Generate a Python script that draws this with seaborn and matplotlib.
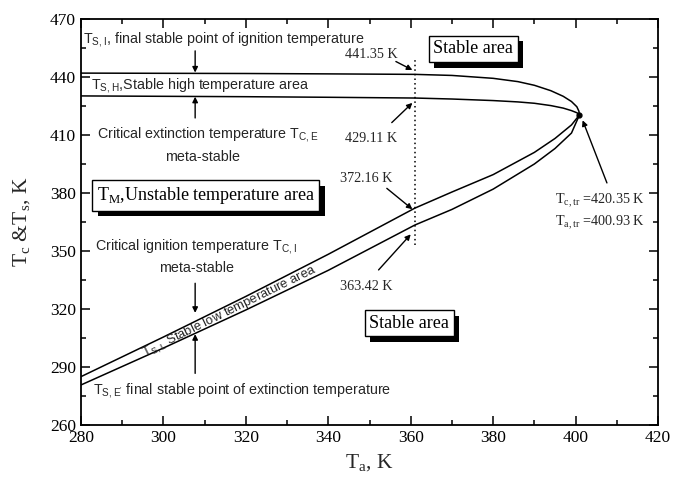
import numpy as np
import pandas as pd
import matplotlib
matplotlib.use("Agg")
import matplotlib.pyplot as plt
import matplotlib.patheffects as pe
import seaborn as sns

# ---- data ----
ta_high = [280, 300, 320, 340, 361, 370, 380, 386, 390, 394, 397, 399, 400.3, 400.8, 400.93]
ts_high_upper = [442.0, 441.9, 441.8, 441.6, 441.35, 440.8, 439.3, 437.6, 435.7, 432.9, 430.0, 427.3, 424.6, 422.3, 420.35]
ts_high_lower = [430.2, 430.0, 429.8, 429.5, 429.11, 428.6, 427.8, 427.1, 426.4, 425.2, 423.9, 422.6, 421.5, 420.8, 420.35]

ta_low = [280, 300, 320, 340, 361, 370, 380, 390, 395, 399, 400.93]
ts_low_upper = [285.0, 305.5, 326.5, 348.3, 372.16, 380.5, 389.5, 401.0, 408.2, 415.2, 420.35]
ts_low_lower = [280.7, 299.8, 319.5, 340.0, 363.42, 371.5, 382.0, 395.0, 403.0, 411.0, 420.35]

x_ticks = [280, 300, 320, 340, 360, 380, 400, 420]
y_ticks = [260, 290, 320, 350, 380, 410, 440, 470]

ta_cut = 361
nose = (400.93, 420.35)

sns.set_theme(style="white")
plt.rcParams["font.family"] = ["Liberation Serif", "DejaVu Serif"]

fig = plt.figure(figsize=(6.77, 4.78), dpi=100)
ax = fig.add_axes([0.1196, 0.1109, 0.8524, 0.8494])

black = "black"
for xs, ys in [(ta_high, ts_high_upper), (ta_high, ts_high_lower),
               (ta_low, ts_low_upper), (ta_low, ts_low_lower)]:
    df = pd.DataFrame({"Ta": xs, "T": ys})
    sns.lineplot(data=df, x="Ta", y="T", color=black, lw=1.1, ax=ax,
                 estimator=None, sort=True)

ax.plot([nose[0]], [nose[1]], "o", color=black, ms=3.5)
ax.vlines(ta_cut, 353, 449.8, colors=black, linestyles=(0, (1, 2)), lw=1.1)

ax.set_xlim(280, 420)
ax.set_ylim(260, 470)
ax.set_xticks(x_ticks)
ax.set_yticks(y_ticks)
ax.set_xticks(np.arange(290, 420, 20), minor=True)
ax.set_yticks(np.arange(275, 470, 30), minor=True)
ax.tick_params(which="both", direction="in", top=True, right=True, bottom=True, left=True,
               labelsize=12.5, colors=black, width=1.1)
ax.tick_params(which="major", length=6.5)
ax.tick_params(which="minor", length=3.5)
for s in ax.spines.values():
    s.set_color(black)
    s.set_linewidth(1.3)
ax.set_xlabel(r"T$_{\mathregular{a}}$, K", fontsize=15.5, labelpad=5)
ax.set_ylabel(r"T$_{\mathregular{c}}$ &T$_{\mathregular{s}}$, K", fontsize=15.5, labelpad=12)

sans = ["Liberation Sans", "DejaVu Sans"]
serif = ["Liberation Serif", "DejaVu Serif"]
fs_sans = 10.3

def arrow(x0, y0, x1, y1):
    ax.annotate("", xy=(x1, y1), xytext=(x0, y0),
                arrowprops=dict(arrowstyle="-|>", color=black, lw=1.0,
                                mutation_scale=8, shrinkA=0, shrinkB=0))

ax.text(280.5, 459.2, r"T$_{\mathregular{S,I}}$, final stable point of ignition temperature",
        family=sans, fontsize=fs_sans, ha="left", va="center")
arrow(307.7, 453.5, 307.7, 442.3)
ax.text(282.4, 435.5, r"T$_{\mathregular{S,H}}$,Stable high temperature area",
        family=sans, fontsize=fs_sans, ha="left", va="center")
arrow(307.7, 418.8, 307.7, 429.8)
ax.text(310.8, 410.0, r"Critical extinction temperature T$_{\mathregular{C,E}}$",
        family=sans, fontsize=fs_sans, ha="center", va="center")
ax.text(309.5, 398.8, "meta-stable", family=sans, fontsize=fs_sans, ha="center", va="center")

ax.text(308.0, 352.2, r"Critical ignition temperature T$_{\mathregular{C,I}}$",
        family=sans, fontsize=fs_sans, ha="center", va="center")
ax.text(308.0, 341.2, "meta-stable", family=sans, fontsize=fs_sans, ha="center", va="center")
arrow(307.7, 333.3, 307.7, 318.0)
arrow(307.7, 286.7, 307.7, 307.0)
ax.text(282.9, 277.7, r"T$_{\mathregular{S,E'}}$ final stable point of extinction temperature",
        family=sans, fontsize=fs_sans, ha="left", va="center")

# rotated text along the low branch
p0 = ax.transData.transform((280, 282.8))
p1 = ax.transData.transform((361, 367.8))
ang = np.degrees(np.arctan2(p1[1] - p0[1], p1[0] - p0[0]))
ax.text(316.2, 318.3, r"T$_{\mathregular{S,L}}$ Stable low temperature area",
        family=sans, fontsize=9.4, ha="center", va="center",
        rotation=ang, rotation_mode="anchor")

# value labels
fs_val = 10.2
ax.text(350.4, 451.4, "441.35 K", family=serif, fontsize=fs_val, ha="center", va="center")
arrow(356.4, 448.0, 360.4, 443.6)
ax.text(350.4, 408.4, "429.11 K", family=serif, fontsize=fs_val, ha="center", va="center")
arrow(355.4, 416.4, 360.4, 426.6)
ax.text(349.2, 387.7, "372.16 K", family=serif, fontsize=fs_val, ha="center", va="center")
arrow(354.2, 382.4, 360.4, 371.6)
ax.text(349.2, 331.5, "363.42 K", family=serif, fontsize=fs_val, ha="center", va="center")
arrow(352.2, 340.2, 360.0, 358.6)
ax.text(395.0, 376.0, r"T$_{\mathregular{c,tr}}$ =420.35 K", family=serif, fontsize=fs_val,
        ha="left", va="center")
ax.text(395.0, 364.6, r"T$_{\mathregular{a,tr}}$ =400.93 K", family=serif, fontsize=fs_val,
        ha="left", va="center")
arrow(407.6, 385.2, 401.7, 417.6)

# boxed labels with shadow
def boxed(x, y, s, fs):
    t = ax.text(x, y, s, family=serif, fontsize=fs, ha="center", va="center", color=black,
                bbox=dict(boxstyle="square,pad=0.25", fc="white", ec=black, lw=1.0))
    t.get_bbox_patch().set_path_effects([
        pe.SimplePatchShadow(offset=(4, -4), shadow_rgbFace="black", alpha=1.0),
        pe.Normal()])

boxed(375.2, 454.5, "Stable area", 13)
boxed(359.6, 312.6, "Stable area", 13)
boxed(310.3, 378.7, r"T$_{\mathregular{M}}$,Unstable temperature area", 13)

fig.savefig("out.png", dpi=100)
